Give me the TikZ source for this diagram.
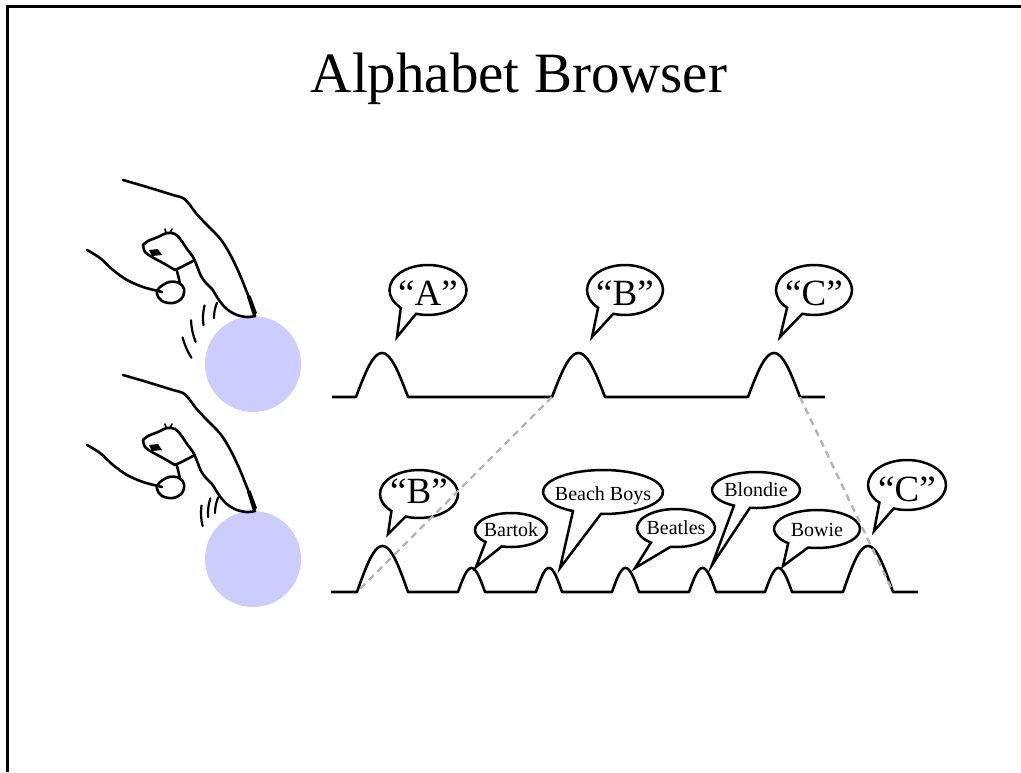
\documentclass[tikz,border=0pt]{standalone}
\usepackage{fontspec}
\setmainfont{Liberation Serif}
\newcommand\qfont{\fontsize{37}{40}\selectfont}
\newcommand\lfont{\fontsize{20}{24}\selectfont}
\newcommand\tfont{\fontsize{57}{64}\selectfont}
% #1 cx, #2 cy, #3 rx, #4 ry, #5 end angle (t1+360), #6 start angle t2, #7 tip coordinate
\newcommand\bubble[7]{%
  \draw[bubline] ({#1+#3*cos(#6)},{#2+#4*sin(#6)}) arc[start angle=#6, end angle=#5, x radius=#3, y radius=#4] -- (#7) -- cycle;}
\newcommand\bump[4]{-- plot[domain=0:1,samples=31,variable=\t] ({#1+\t*#2},{#4-#3*sin(180*\t)})}
\newcommand\motion[4]{\draw[thinink] ({255+#1*cos(#2)},{318+#4+#1*sin(#2)}) arc[start angle=#2, end angle=#3, radius=#1];}
\definecolor{lav}{RGB}{204,204,255}
\definecolor{dgray}{RGB}{180,180,180}
\tikzset{
  ink/.style={line width=2.6pt, line cap=round, line join=round},
  thinink/.style={line width=2.2pt, line cap=round},
  wave/.style={line width=2.6pt, line join=round},
  bubline/.style={line width=2.5pt, fill=white, line join=miter},
  bigtxt/.style={font=\qfont, inner sep=0pt, text height=24pt, text depth=0pt},
  smalltxt/.style={font=\lfont, inner sep=0pt, text height=13pt, text depth=0pt},
  dashline/.style={dgray, line width=2.4pt, dash pattern=on 7pt off 5pt},
  frame/.style={line width=3pt},
  ball/.style={circle, fill=lav, minimum size=96pt, inner sep=0pt},
  hand/.pic={
    % back of index finger
    \draw[ink] plot[smooth,tension=0.55] coordinates {(123,180) (147,187) (173,195) (183,198) (190,205) (195,212) (205,223) (217,235) (224,244) (232,258) (240,275) (246,290) (250,300) (253,309) (255,316)};
    % curled finger top + index underside
    \draw[ink] plot[smooth,tension=0.55] coordinates {(143,245) (148,241) (158,237) (167,233) (175,234) (181,240) (187,249) (193,257) (197,266) (201,276) (206,283) (212,289) (217,297) (222,304) (228,310) (237,315) (247,317) (255,316)};
    % curled finger bottom and joint
    \draw[ink] plot[smooth,tension=0.55] coordinates {(143,245) (145,252) (152,257) (163,263) (175,270)};
    \draw[ink] (175,270) .. controls (182,267) and (189,263) .. (195,260);
    \draw[line width=1.6pt, line cap=round] (166,233) -- (165,229) (170,233) -- (172,229);
    \fill (149,250) -- (158,249) -- (162,255) -- (152,256) -- cycle;
    % lower hand edge and thumb
    \draw[ink] plot[smooth,tension=0.55] coordinates {(87,250) (100,258) (113,270) (127,280) (143,287) (158,291) (162,292)};
    \draw[ink] plot[smooth cycle,tension=0.6] coordinates {(159,288) (169,282) (179,283) (184,289) (182,298) (173,303) (162,301) (157,294)};
    \draw[ink] (180,284) .. controls (179,279) .. (177,271);
    % nail of index finger
    \fill (247,297) -- (250.5,295.5) -- (257,313) -- (253,316) -- cycle;
  }
}
\begin{document}
\begin{tikzpicture}[x=1pt,y=-1pt]
\useasboundingbox (0,0) rectangle (1021,772);
\fill[white] (0,0) rectangle (1021,772);
\draw[frame] (7,772) -- (7,6) -- (1021,6);

\node[font=\tfont, anchor=base, inner sep=0pt] (title) at (519,92) {Alphabet Browser};

% balls
\node[ball] (ball1) at (253,364) {};
\node[ball] (ball2) at (253,559) {};

% hands
\pic at (0,0) {hand};
\pic at (0,195) {hand};
\motion{41}{180}{202}{0}
\motion{52}{172}{194}{0}
\motion{64}{158}{178}{0}
\motion{75}{148}{165}{0}
\motion{40}{180}{203}{195}
\motion{47}{175}{198}{195}
\motion{54}{166}{188}{195}

% waves
\draw[wave] (332,397) \bump{356}{52}{44}{397} \bump{552}{53}{44}{397} \bump{748}{52}{44}{397} -- (825,397);
\draw[wave] (331,592) \bump{357}{51}{46}{592} \bump{458}{27}{24}{592} \bump{536}{26}{24}{592} \bump{612}{27}{24}{592} \bump{689}{27}{24}{592} \bump{765}{27}{24}{592} \bump{843}{50}{46}{592} -- (918,592);

% tips
\coordinate (tA) at (397,337);
\coordinate (tB) at (592,337);
\coordinate (tC) at (780,337);
\coordinate (tB2) at (388,534);
\coordinate (tBa) at (476,567);
\coordinate (tBB) at (560,568);
\coordinate (tBe) at (635,568);
\coordinate (tBl) at (712,565);
\coordinate (tBo) at (783,566);
\coordinate (tC2) at (874,531);

% bubbles
\bubble{428}{290}{38.5}{25}{468}{135}{tA}
\bubble{625}{290}{38}{25}{468}{135}{tB}
\bubble{814}{290}{38}{25}{468}{135}{tC}
\bubble{419}{494}{39}{24}{470}{135}{tB2}
\bubble{511}{530}{36}{17}{465}{135}{tBa}
\bubble{603}{492}{60}{22}{452}{120}{tBB}
\bubble{676}{528}{39}{19}{458}{130}{tBe}
\bubble{756}{490}{44}{18}{458}{120}{tBl}
\bubble{817}{529}{43}{19}{462}{132}{tBo}
\bubble{907}{485}{39}{25}{470}{135}{tC2}

\node[bigtxt] (lA) at (428,293) {“A”};
\node[bigtxt] (lB) at (625,293) {“B”};
\node[bigtxt] (lC) at (814,293) {“C”};
\node[bigtxt] (lB2) at (419,491) {“B”};
\node[bigtxt] (lC2) at (907,489) {“C”};
\node[smalltxt] (lBa) at (511,530) {Bartok};
\node[smalltxt] (lBB) at (603,494) {Beach Boys};
\node[smalltxt] (lBe) at (676,528) {Beatles};
\node[smalltxt] (lBl) at (756,490) {Blondie};
\node[smalltxt] (lBo) at (817,530) {Bowie};

% zoom lines
\coordinate (uB) at (552,397);
\coordinate (lBs) at (357,592);
\coordinate (uC) at (800,397);
\coordinate (lCe) at (893,592);
\draw[dashline] (uB) -- (lBs);
\draw[dashline] (uC) -- (lCe);
\end{tikzpicture}
\end{document}
